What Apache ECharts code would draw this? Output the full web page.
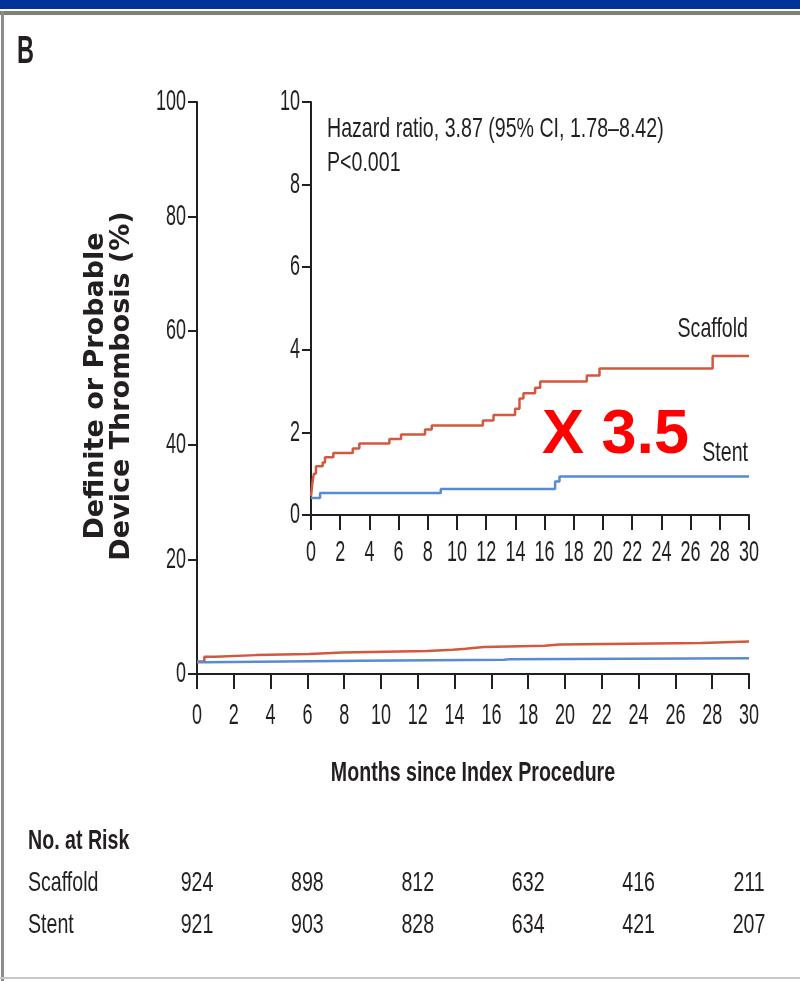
<!DOCTYPE html>
<html>
<head>
<meta charset="utf-8">
<script src="https://cdn.jsdelivr.net/npm/echarts@6/dist/echarts.min.js"></script>
<style>
  html, body { margin: 0; padding: 0; background: #fff; }
  #chart { width: 800px; height: 981px; }
</style>
</head>
<body>
<div id="chart"></div>
<script>
// Cumulative incidence of definite or probable device thrombosis, [month, %]
const mainScaffold = [[0,2.2],[0.4,3.0],[1.0,3.3],[3.2,3.5],[6.1,3.75],[7.9,4.0],[12.5,4.25],[13.9,4.4],[14.6,4.7],[15.6,4.95],[18.9,5.15],[19.7,5.4],[27.4,5.7],[30,5.7]];
const mainStent = [[0,2.05],[0.5,2.3],[8.9,2.5],[16.7,2.6],[17.0,2.75],[30,2.75]];

// Enlarged view (0-10 %)
const insetScaffold = [[0,0.45],[0.1,0.8],[0.2,1.0],[0.34,1.18],[0.8,1.27],[0.96,1.4],[1.53,1.5],[2.86,1.61],[3.31,1.73],[5.37,1.84],[6.17,1.95],[7.81,2.07],[8.27,2.17],[11.77,2.29],[12.5,2.42],[13.98,2.57],[14.28,2.82],[14.55,2.95],[15.35,3.08],[15.7,3.23],[18.89,3.38],[19.76,3.55],[27.51,3.85],[30,3.85]];
const insetStent = [[0,0.41],[0.62,0.53],[8.89,0.63],[16.72,0.81],[17.02,0.93],[30,0.93]];

// Number at risk
const riskGroups = ['Scaffold', 'Stent'];
const riskMonths = [0, 6, 12, 18, 24, 30];
const scaffoldRisk = [924, 898, 812, 632, 416, 211];
const stentRisk = [921, 903, 828, 634, 421, 207];

// Axis ticks
const xTickLabels = [0, 2, 4, 6, 8, 10, 12, 14, 16, 18, 20, 22, 24, 26, 28, 30];
const mainYTickLabels = [0, 20, 40, 60, 80, 100];
const insetYTickLabels = [0, 2, 4, 6, 8, 10];

const INK = '#231f20';
const RED = '#d2583f';
const BLUE = '#5a8ad2';
const SANS = "'Liberation Sans', Arial, sans-serif";

const chart = echarts.init(document.getElementById('chart'), null, { renderer: 'canvas' });

function axisX(gridIndex) {
  return {
    gridIndex, type: 'value', min: 0, max: 30, interval: 2,
    axisLine: { show: true, lineStyle: { color: INK, width: 2 } },
    axisTick: { show: true, length: 15, lineStyle: { color: INK, width: 2 } },
    axisLabel: { show: false },
    splitLine: { show: false }
  };
}
function axisY(gridIndex, max, interval) {
  return {
    gridIndex, type: 'value', min: 0, max, interval,
    axisLine: { show: true, lineStyle: { color: INK, width: 2 } },
    axisTick: { show: true, length: 9, lineStyle: { color: INK, width: 2 } },
    axisLabel: { show: false },
    splitLine: { show: false }
  };
}
function kmLine(name, data, color, xi, yi) {
  return {
    name, type: 'line', step: 'end', data, xAxisIndex: xi, yAxisIndex: yi,
    showSymbol: false, symbol: 'none', animation: false,
    lineStyle: { color, width: 2.5 }
  };
}

chart.setOption({
  animation: false,
  backgroundColor: '#fff',
  grid: [
    { left: 197, top: 102, width: 552, height: 572 },
    { left: 311, top: 102, width: 438, height: 413 },
    { left: 197, top: 862, width: 552, height: 84 }
  ],
  xAxis: [
    axisX(0),
    axisX(1),
    { gridIndex: 2, type: 'value', min: 0, max: 30, show: false }
  ],
  yAxis: [
    axisY(0, 100, 20),
    axisY(1, 10, 2),
    { gridIndex: 2, type: 'category', data: riskGroups, inverse: true, show: false }
  ],
  series: [
    kmLine('Scaffold', mainScaffold, RED, 0, 0),
    kmLine('Stent', mainStent, BLUE, 0, 0),
    kmLine('Scaffold', insetScaffold, RED, 1, 1),
    kmLine('Stent', insetStent, BLUE, 1, 1)
  ]
});

// Condensed text: a regular face squeezed horizontally
function condensed(str, x, y, o) {
  return {
    type: 'text', x, y, scaleX: o.sx, scaleY: 1, silent: true,
    style: {
      text: str, x: 0, y: 0, fill: o.fill || INK, fontFamily: o.family || SANS,
      fontSize: o.size, fontWeight: o.bold ? 'bold' : 'normal',
      align: o.align || 'left', verticalAlign: o.va || 'middle'
    }
  };
}

const px = (axis, idx, v) => chart.convertToPixel({ [axis]: idx }, v);
const TICK = { size: 30, sx: 0.6 };
const BODY = { size: 28, sx: 0.7 };
const graphics = [];

// frame
graphics.push(
  { type: 'rect', shape: { x: 0, y: 0, width: 800, height: 9 }, style: { fill: '#003399' } },
  { type: 'rect', shape: { x: 0, y: 11, width: 800, height: 4 }, style: { fill: '#7f7f7f' } },
  { type: 'rect', shape: { x: 1, y: 11, width: 3, height: 970 }, style: { fill: '#8c8c8c' } },
  { type: 'rect', shape: { x: 0, y: 977, width: 800, height: 2 }, style: { fill: '#c8c8c8' } }
);

// tick labels of both panels
[[0, 42], [1, 38]].forEach(([i, gap]) => {
  const yBase = px('yAxisIndex', i, 0) + gap;
  xTickLabels.forEach(v => graphics.push(condensed(String(v), px('xAxisIndex', i, v), yBase, Object.assign({ align: 'center' }, TICK))));
});
[[0, mainYTickLabels], [1, insetYTickLabels]].forEach(([i, labels]) => {
  const xAxisPos = px('xAxisIndex', i, 0) - 11;
  labels.forEach(v => graphics.push(condensed(String(v), xAxisPos, px('yAxisIndex', i, v), Object.assign({ align: 'right' }, TICK))));
});

// number at risk
const rowY = riskGroups.map(g => px('yAxisIndex', 2, g));
graphics.push(condensed('No. at Risk', 28, 841, Object.assign({ bold: true }, BODY)));
riskGroups.forEach((g, r) => {
  graphics.push(condensed(g, 28, rowY[r], BODY));
  const vals = r === 0 ? scaffoldRisk : stentRisk;
  riskMonths.forEach((m, k) => graphics.push(condensed(String(vals[k]), px('xAxisIndex', 2, m), rowY[r], Object.assign({ align: 'center' }, BODY))));
});

// titles and annotations
graphics.push(
  condensed('B', 17, 53, { size: 38, sx: 0.62, bold: true }),
  {
    type: 'text', x: 109, y: 386, rotation: Math.PI / 2, silent: true,
    style: {
      text: 'Definite or Probable\nDevice Thrombosis (%)', fill: INK,
      fontFamily: "'DejaVu Sans', sans-serif", fontSize: 27, fontWeight: 'bold',
      lineHeight: 26, align: 'center', verticalAlign: 'middle'
    }
  },
  condensed('Hazard ratio, 3.87 (95% CI, 1.78\u20138.42)', 327, 129, BODY),
  condensed('P<0.001', 327, 163, BODY),
  condensed('Scaffold', 748, 329, Object.assign({ align: 'right' }, BODY)),
  condensed('Stent', 748, 453, Object.assign({ align: 'right' }, BODY)),
  condensed('X 3.5', 542, 436, { size: 63, sx: 1, bold: true, fill: '#ff0000' }),
  condensed('Months since Index Procedure', 473, 773, Object.assign({ align: 'center', bold: true }, BODY))
);

chart.setOption({ graphic: graphics });
</script>
</body>
</html>
